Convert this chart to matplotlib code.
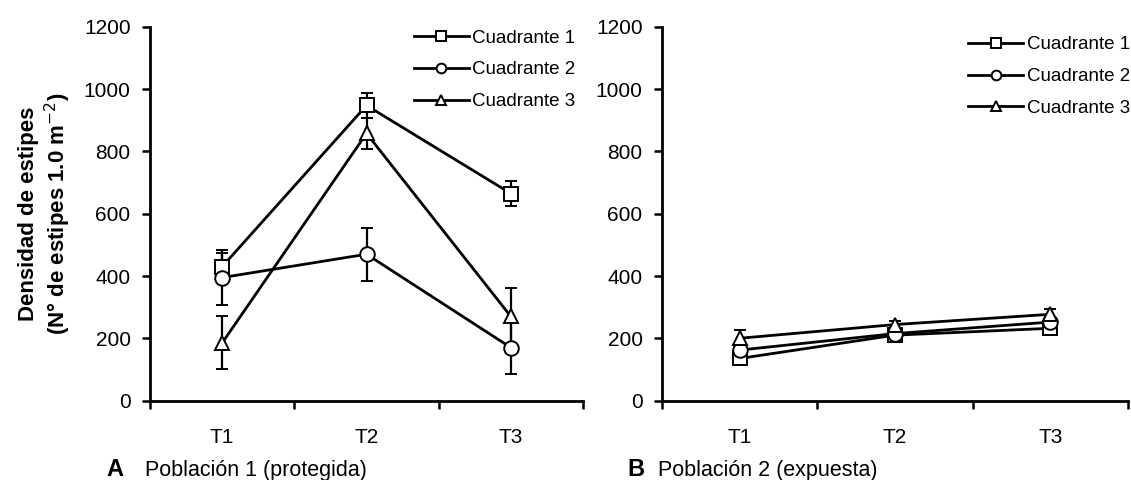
import matplotlib
matplotlib.use("Agg")
import matplotlib.pyplot as plt
import numpy as np

plt.rcParams['font.family'] = ['Liberation Sans', 'DejaVu Sans']

# --- data ---
tiempos = ["T1", "T2", "T3"]
series = ["Cuadrante 1", "Cuadrante 2", "Cuadrante 3"]
marcadores = ["s", "o", "^"]

# Poblacion 1 (protegida)
p1_c1 = [430, 948, 665]
p1_c2 = [395, 470, 170]
p1_c3 = [185, 858, 270]
p1_c1_err = [45, 40, 40]
p1_c2_err = [88, 85, 85]
p1_c3_err = [85, 50, 92]

# Poblacion 2 (expuesta)
p2_c1 = [135, 210, 232]
p2_c2 = [162, 215, 252]
p2_c3 = [200, 244, 277]
p2_c1_err = [15, 12, 15]
p2_c2_err = [15, 12, 15]
p2_c3_err = [25, 12, 18]

fig = plt.figure(figsize=(11.31, 4.8), dpi=100)
ax1 = fig.add_axes([0.1326, 0.1656, 0.3829, 0.7782])
ax2 = fig.add_axes([0.5853, 0.1656, 0.412, 0.7782])

x = np.arange(len(tiempos)) + 0.5


def draw_panel(ax, vals, errs, legend_anchor):
    for v, e, m, lab in zip(vals, errs, marcadores, series):
        ax.errorbar(x, v, yerr=e, color="black", marker=m,
                    markersize=10 if m != "o" else 10.5,
                    markerfacecolor="white", markeredgecolor="black", markeredgewidth=1.4,
                    linewidth=2, capsize=4.5, elinewidth=1.6, capthick=1.6, label=lab)
    ax.set_xlim(0, 3)
    ax.set_ylim(0, 1200)
    ax.set_yticks(range(0, 1201, 200))
    ax.set_xticks([0, 1, 2, 3])
    ax.set_xticklabels([])
    ax.set_xticks(x, minor=True)
    ax.set_xticklabels(tiempos, minor=True)
    ax.tick_params(axis="x", which="minor", length=0, pad=20, labelsize=15)
    ax.tick_params(axis="x", which="major", direction="out", length=6, width=1.8)
    ax.tick_params(axis="y", direction="out", length=6, width=1.8, labelsize=15, pad=8)
    for s in ["top", "right"]:
        ax.spines[s].set_visible(False)
    for s in ["left", "bottom"]:
        ax.spines[s].set_linewidth(2)
    handles, labels = ax.get_legend_handles_labels()
    handles = [h[0] for h in handles]
    leg = ax.legend(handles, labels, loc="upper right", bbox_to_anchor=legend_anchor,
                    frameon=False, fontsize=13.5, handlelength=2.9, handletextpad=0.2,
                    labelspacing=0.78, borderaxespad=0)
    for lh in leg.legend_handles:
        lh.set_markersize(7)


draw_panel(ax1, [p1_c1, p1_c2, p1_c3], [p1_c1_err, p1_c2_err, p1_c3_err], (1.0, 1.013))
draw_panel(ax2, [p2_c1, p2_c2, p2_c3], [p2_c1_err, p2_c2_err, p2_c3_err], (1.02, 0.995))

ax1.set_ylabel("Densidad de estipes\n(N° de estipes 1.0 m$^{-2}$)", fontsize=16,
               fontweight="bold", labelpad=8, linespacing=1.15)

fig.text(0.094, 0.008, "A", fontsize=17, fontweight="bold", va="baseline")
fig.text(0.128, 0.008, "Población 1 (protegida)", fontsize=15.5, va="baseline")
fig.text(0.555, 0.008, "B", fontsize=17, fontweight="bold", va="baseline")
fig.text(0.582, 0.008, "Población 2 (expuesta)", fontsize=15.5, va="baseline")

fig.savefig("out.png", dpi=100)
